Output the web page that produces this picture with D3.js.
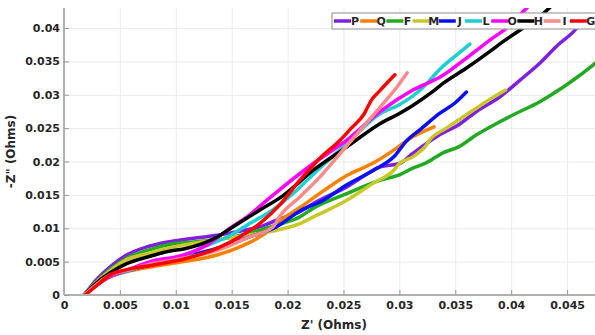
<!DOCTYPE html>
<html>
<head>
<meta charset="utf-8">
<script src="https://cdn.jsdelivr.net/npm/d3@7"></script>
<style>
  body { margin: 0; background: #fff; }
  text { font-family: "DejaVu Sans", sans-serif; font-weight: bold; fill: #262626; }
</style>
</head>
<body>
<svg id="chart" width="595" height="335"></svg>
<script>
// series names in legend / draw order
const names = ['P', 'Q', 'F', 'M', 'J', 'L', 'O', 'H', 'I', 'G'];
const colors = ['#7f1fe0', '#ff8000', '#22aa22', '#c8c82a', '#0a10f5', '#1ad0d0', '#ff00ff', '#000000', '#ff8a8a', '#ff0000'];

const xTicks = [0, 0.005, 0.01, 0.015, 0.02, 0.025, 0.03, 0.035, 0.04, 0.045];
const yTicks = [0, 0.005, 0.01, 0.015, 0.02, 0.025, 0.03, 0.035, 0.04];

// Z' values (x) and -Z'' values (y) per series
const xP = [0.0018, 0.0029, 0.0041, 0.0056, 0.0074, 0.0095, 0.0116, 0.0135, 0.0155, 0.0175, 0.0193, 0.0211, 0.0223, 0.0253, 0.0283, 0.0300, 0.0312, 0.0336, 0.0353, 0.0369, 0.0390, 0.0408, 0.0426, 0.0442, 0.0456, 0.0468];
const yP = [0, 0.0023, 0.0042, 0.0060, 0.0072, 0.0080, 0.0085, 0.0089, 0.0095, 0.0102, 0.0114, 0.0125, 0.0137, 0.0162, 0.0192, 0.0197, 0.0212, 0.0240, 0.0255, 0.0275, 0.0297, 0.0322, 0.0348, 0.0375, 0.0395, 0.0420];

const xQ = [0.0018, 0.0030, 0.0040, 0.0056, 0.0077, 0.0107, 0.0137, 0.0160, 0.0178, 0.0193, 0.0211, 0.0232, 0.0253, 0.0277, 0.0295, 0.0312, 0.0331];
const yQ = [0, 0.0016, 0.0026, 0.0035, 0.0042, 0.0050, 0.0060, 0.0074, 0.0090, 0.0111, 0.0131, 0.0156, 0.0179, 0.0198, 0.0217, 0.0237, 0.0252];

const xF = [0.0018, 0.0029, 0.0041, 0.0056, 0.0077, 0.0095, 0.0120, 0.0151, 0.0175, 0.0193, 0.0211, 0.0223, 0.0253, 0.0283, 0.0300, 0.0312, 0.0324, 0.0339, 0.0353, 0.0369, 0.0387, 0.0402, 0.0426, 0.0447, 0.0462, 0.0475, 0.0485];
const yF = [0, 0.0020, 0.0038, 0.0055, 0.0068, 0.0076, 0.0080, 0.0087, 0.0097, 0.0106, 0.0117, 0.0130, 0.0152, 0.0172, 0.0180, 0.0190, 0.0198, 0.0213, 0.0222, 0.0240, 0.0257, 0.0270, 0.0290, 0.0312, 0.0330, 0.0347, 0.0360];

const xM = [0.0018, 0.0029, 0.0041, 0.0056, 0.0077, 0.0095, 0.0107, 0.0137, 0.0166, 0.0193, 0.0211, 0.0223, 0.0253, 0.0277, 0.0295, 0.0300, 0.0312, 0.0316, 0.0323, 0.0327, 0.0342, 0.0360, 0.0378, 0.0395];
const yM = [0, 0.0019, 0.0036, 0.0053, 0.0063, 0.0071, 0.0075, 0.0083, 0.0090, 0.0098, 0.0107, 0.0117, 0.0142, 0.0168, 0.0187, 0.0197, 0.0207, 0.0212, 0.0222, 0.0232, 0.0250, 0.0270, 0.0290, 0.0307];

const xJ = [0.0018, 0.0030, 0.0040, 0.0056, 0.0077, 0.0107, 0.0137, 0.0166, 0.0190, 0.0211, 0.0232, 0.0253, 0.0277, 0.0295, 0.0307, 0.0318, 0.0336, 0.0350, 0.0360];
const yJ = [0, 0.0016, 0.0027, 0.0036, 0.0045, 0.0057, 0.0070, 0.0087, 0.0102, 0.0126, 0.0142, 0.0165, 0.0187, 0.0207, 0.0232, 0.0247, 0.0272, 0.0288, 0.0304];

const xL = [0.0018, 0.0030, 0.0040, 0.0056, 0.0077, 0.0107, 0.0122, 0.0146, 0.0166, 0.0187, 0.0205, 0.0223, 0.0253, 0.0283, 0.0300, 0.0318, 0.0338, 0.0350, 0.0363];
const yL = [0, 0.0016, 0.0027, 0.0036, 0.0046, 0.0058, 0.0070, 0.0087, 0.0107, 0.0128, 0.0152, 0.0181, 0.0227, 0.0272, 0.0285, 0.0306, 0.0341, 0.0358, 0.0376];

const xO = [0.0018, 0.0030, 0.0040, 0.0056, 0.0077, 0.0107, 0.0128, 0.0146, 0.0166, 0.0180, 0.0193, 0.0223, 0.0253, 0.0283, 0.0312, 0.0338, 0.0360, 0.0381, 0.0396, 0.0411, 0.0420];
const yO = [0, 0.0016, 0.0027, 0.0037, 0.0050, 0.0060, 0.0075, 0.0097, 0.0120, 0.0140, 0.0158, 0.0197, 0.0232, 0.0275, 0.0307, 0.0328, 0.0355, 0.0382, 0.0400, 0.0425, 0.0440];

const xH = [0.0018, 0.0029, 0.0041, 0.0056, 0.0077, 0.0095, 0.0107, 0.0137, 0.0151, 0.0175, 0.0196, 0.0223, 0.0253, 0.0283, 0.0300, 0.0312, 0.0330, 0.0339, 0.0360, 0.0381, 0.0393, 0.0408, 0.0429, 0.0440];
const yH = [0, 0.0018, 0.0033, 0.0047, 0.0058, 0.0066, 0.0069, 0.0087, 0.0102, 0.0127, 0.0149, 0.0187, 0.0222, 0.0257, 0.0272, 0.0284, 0.0305, 0.0317, 0.0340, 0.0365, 0.0380, 0.0397, 0.0422, 0.0440];

const xI = [0.0018, 0.0030, 0.0040, 0.0056, 0.0077, 0.0107, 0.0137, 0.0166, 0.0187, 0.0193, 0.0211, 0.0229, 0.0247, 0.0265, 0.0283, 0.0298, 0.0307];
const yI = [0, 0.0017, 0.0029, 0.0037, 0.0046, 0.0055, 0.0067, 0.0087, 0.0102, 0.0118, 0.0147, 0.0177, 0.0212, 0.0247, 0.0282, 0.0312, 0.0333];

const xG = [0.0019, 0.0032, 0.0041, 0.0056, 0.0080, 0.0110, 0.0137, 0.0157, 0.0175, 0.0193, 0.0211, 0.0229, 0.0247, 0.0257, 0.0268, 0.0275, 0.0283, 0.0296];
const yG = [0, 0.0018, 0.0030, 0.0038, 0.0045, 0.0055, 0.0070, 0.0087, 0.0107, 0.0135, 0.0172, 0.0205, 0.0232, 0.0250, 0.0270, 0.0292, 0.0307, 0.0330];

const xs = [xP, xQ, xF, xM, xJ, xL, xO, xH, xI, xG];
const ys = [yP, yQ, yF, yM, yJ, yL, yO, yH, yI, yG];

const series = names.map((n, i) => ({
  name: n,
  color: colors[i],
  pts: xs[i].map((v, j) => [v, ys[i][j]])
}));

const svg = d3.select('#chart');
const mLeft = 64, mRight = 600.6, mTop = 8, mBottom = 295;

const x = d3.scaleLinear().domain([0, 0.048]).range([mLeft, mRight]);
const y = d3.scaleLinear().domain([0, 0.043]).range([mBottom, mTop]);
const fmt = d => String(+d.toFixed(3));

// grid
svg.append('g')
  .attr('transform', `translate(0,${mBottom})`)
  .call(d3.axisBottom(x).tickValues(xTicks).tickSize(-(mBottom - mTop)).tickFormat(''))
  .call(g => g.select('.domain').remove())
  .call(g => g.selectAll('line').attr('stroke', '#ebebeb'));
svg.append('g')
  .attr('transform', `translate(${mLeft},0)`)
  .call(d3.axisLeft(y).tickValues(yTicks).tickSize(-(mRight - mLeft)).tickFormat(''))
  .call(g => g.select('.domain').remove())
  .call(g => g.selectAll('line').attr('stroke', '#ebebeb'));

// curves
svg.append('defs').append('clipPath').attr('id', 'clip')
  .append('rect').attr('x', mLeft).attr('y', mTop).attr('width', mRight - mLeft).attr('height', mBottom - mTop);

const line = d3.line()
  .x(d => x(d[0]))
  .y(d => y(d[1]))
  .curve(d3.curveMonotoneX);

svg.append('g').attr('clip-path', 'url(#clip)')
  .selectAll('path')
  .data(series)
  .join('path')
  .attr('d', d => line(d.pts))
  .attr('fill', 'none')
  .attr('stroke', d => d.color)
  .attr('stroke-width', 3.5)
  .attr('stroke-linejoin', 'round')
  .attr('stroke-linecap', 'round');

// axes
const xAxis = svg.append('g')
  .attr('transform', `translate(0,${mBottom})`)
  .call(d3.axisBottom(x).tickValues(xTicks).tickSize(-5).tickPadding(6).tickFormat(fmt));
const yAxis = svg.append('g')
  .attr('transform', `translate(${mLeft},0)`)
  .call(d3.axisLeft(y).tickValues(yTicks).tickSize(-5).tickPadding(4).tickFormat(fmt));

[xAxis, yAxis].forEach(g => {
  g.select('.domain').attr('stroke', '#b0b0b0').attr('stroke-width', 2);
  g.selectAll('.tick line').attr('stroke', '#9a9a9a');
  g.selectAll('.tick text')
    .attr('font-family', '"DejaVu Sans", sans-serif')
    .attr('font-weight', 'bold')
    .attr('font-size', 11)
    .attr('fill', '#262626');
});
yAxis.select('.domain').attr('d', `M0,${mTop}V${mBottom}`);
xAxis.select('.domain').attr('d', `M${mLeft},0H${mRight}`);

// axis labels
svg.append('text')
  .attr('x', 334).attr('y', 329)
  .attr('text-anchor', 'middle')
  .attr('font-size', 12)
  .text("Z' (Ohms)");
svg.append('text')
  .attr('transform', `translate(15,${(mTop + mBottom) / 2}) rotate(-90)`)
  .attr('text-anchor', 'middle')
  .attr('font-size', 12)
  .text('-Z" (Ohms)');

// legend
const lg = svg.append('g');
lg.append('rect')
  .attr('x', 332).attr('y', 13).attr('width', 280).attr('height', 16)
  .attr('fill', '#fff').attr('stroke', '#a0a0a0').attr('stroke-width', 1.2);
const item = lg.selectAll('g.item').data(series).join('g')
  .attr('class', 'item')
  .attr('transform', (d, i) => `translate(${355 + i * 26.2},21)`);
item.append('line')
  .attr('x1', -21).attr('x2', -4).attr('y1', 0).attr('y2', 0)
  .attr('stroke', d => d.color).attr('stroke-width', 3.5);
item.append('text')
  .attr('text-anchor', 'middle')
  .attr('dy', '0.36em')
  .attr('font-size', 11)
  .text(d => d.name);
</script>
</body>
</html>
